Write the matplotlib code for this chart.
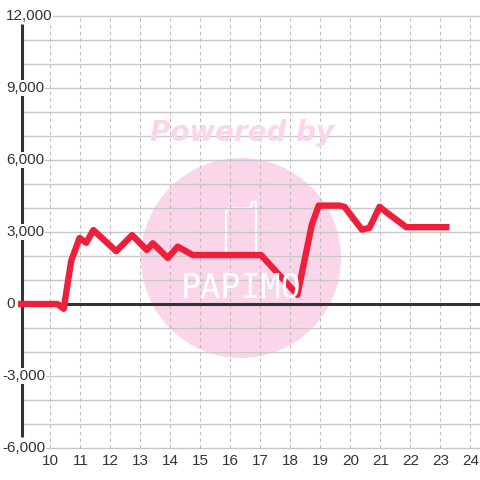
import matplotlib
matplotlib.use("Agg")
import matplotlib.pyplot as plt
from matplotlib.patches import Circle
from matplotlib.transforms import blended_transform_factory

plt.rcParams["font.family"] = ["Liberation Sans", "DejaVu Sans"]

# Data (hour of day -> value)
hours = [8.92, 10.23, 10.44, 10.69, 10.97, 11.19, 11.43, 12.19, 12.72, 13.21,
         13.41, 13.91, 14.24, 14.74, 17.02, 18.23, 18.71, 18.94, 19.63, 19.80,
         20.38, 20.63, 20.97, 21.24, 21.69, 21.86, 23.30]
values = [0, 0, -200, 1800, 2750, 2550, 3080, 2200, 2870, 2250,
          2530, 1920, 2390, 2040, 2040, 380, 3300, 4100, 4100, 4050,
          3100, 3170, 4050, 3780, 3360, 3200, 3200]

x_ticks = list(range(10, 25))
y_labels = list(range(-6000, 12001, 3000))
y_grid = list(range(-6000, 12001, 1000))

LINE_RED = "#ee1f3a"
PINK = "#fbd5ea"
TEXT = "#333333"

W = H = 480
fig = plt.figure(figsize=(4.8, 4.8), dpi=100)

# axes placed in pixels: left 21, right 480, top 10, bottom 452
left, right, top, bottom = 21, 480, 10, 452
ax = fig.add_axes([left / W, 1 - bottom / H, (right - left) / W, (bottom - top) / H])
ax.set_xlim(10 - 29.5 / 30, 10 + (480 - 50.5) / 30)
ax.set_ylim(-148 / 24 * 1000, 294 / 24 * 1000)
ax.axis("off")

x0, x1 = ax.get_xlim()

# watermark (sits under the grid)
inch = fig.dpi_scale_trans
circle = Circle((2.41, (H - 258) / 100), 1.0, transform=inch,
                facecolor=PINK, edgecolor="none", zorder=0.2, clip_on=False)
ax.add_patch(circle)
fig.text(242 / W, 1 - 133 / H, "Powered by", color=PINK, fontsize=20,
         fontweight="bold", fontstyle="italic", family="DejaVu Sans",
         ha="center", va="center", zorder=0.3)
fig.text(241 / W, 1 - 289 / H, "PAPIMO", color="white", fontsize=24,
         family="DejaVu Sans Mono", ha="center", va="center", zorder=0.3)
px = [226, 226, 228, 251, 252, 256, 256]
py = [252, 212, 208, 208, 202, 202, 252]
ax.plot([p / 100 for p in px], [(H - p) / 100 for p in py], color="white",
        lw=1.6, transform=inch, zorder=0.3, clip_on=False,
        solid_joinstyle="round")

# grid
ax.hlines(y_grid, x0, x1, color="#c8c8c8", lw=1.0, zorder=1)
ax.vlines(x_ticks, -6000, 12000, color="#bdbdbd", lw=0.8,
          linestyles=(0, (3, 3)), zorder=1)

# axis lines
ax.hlines(0, x0, x1, color=TEXT, lw=2.2, zorder=2)
ax.vlines(x0 + 0.5 / 30, -5540, 11670, color=TEXT, lw=2.2, zorder=2)

# data line
ax.plot(hours, values, color=LINE_RED, lw=4.6, solid_joinstyle="round",
        solid_capstyle="butt", zorder=3, clip_on=False)

# y labels with white backing
ytrans = blended_transform_factory(inch, ax.transData)
for v in y_labels:
    xpos = 6 if v >= 0 else 2
    ax.text(xpos / 100, v, f"{v:,}", transform=ytrans, ha="left", va="center",
            fontsize=11, color=TEXT, zorder=4,
            bbox=dict(facecolor="white", edgecolor="none", pad=0.6))

# x labels
xtrans = blended_transform_factory(ax.transData, inch)
for h in x_ticks:
    ax.text(h, (H - 461) / 100, str(h), transform=xtrans, ha="center",
            va="center", fontsize=11, color=TEXT)

fig.savefig("out.png", dpi=100, facecolor="white")
